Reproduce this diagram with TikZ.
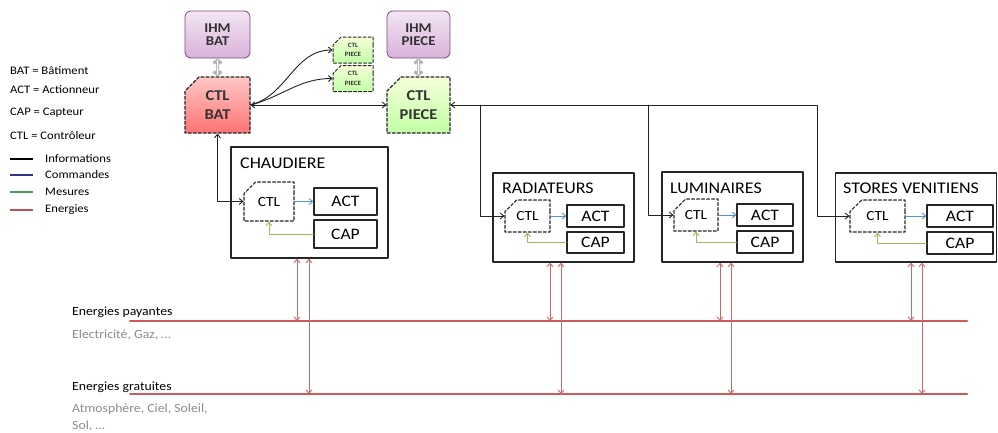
\documentclass[tikz,border=0pt]{standalone}
\usepackage{fontspec}
\setmainfont{Carlito}[FakeStretch=1.1]
\usetikzlibrary{shapes.misc,arrows.meta}
\definecolor{infoc}{HTML}{222222}
\definecolor{cmdc}{HTML}{5B8FC7}
\definecolor{mesc}{HTML}{9BBB59}
\definecolor{nrjc}{HTML}{C0504D}
\definecolor{nrjl}{HTML}{D0595A}
\definecolor{graytxt}{HTML}{8C8C8C}
\newcommand{\fs}[1]{\fontsize{#1}{#1}\selectfont}
\begin{document}
\begin{tikzpicture}[x=1pt,y=-1pt,line cap=round,line join=round,>={Straight Barb[length=3.5pt,width=6pt]},
	ihm/.style={draw=violet!45!gray,line width=0.8pt,rounded corners=6pt,top color=violet!10,bottom color=violet!30,inner sep=0pt,align=center,font=\fs{13.5}\bfseries,text=black!80},
	ctlbox/.style={chamfered rectangle,chamfered rectangle corners=north west,chamfered rectangle sep=7pt,draw=black!85,dashed,dash pattern=on 3pt off 2pt,line width=1.2pt,inner sep=0pt,align=center},
	sysbox/.style={draw=black!85,line width=1.3pt,inner sep=0pt},
	subbox/.style={draw=black!85,line width=1.3pt,inner sep=0pt,font=\fs{16}},
	systitle/.style={anchor=west,inner sep=0pt,font=\fs{16.3}},
	info/.style={draw=infoc,line width=0.9pt},
	cmd/.style={draw=cmdc,line width=0.9pt,->},
	mes/.style={draw=mesc,line width=0.9pt,->},
	nrj/.style={draw=nrjc!85,line width=0.9pt,<->},
	nrjline/.style={draw=nrjl,line width=2pt},
	ihmlink/.style={gray!60,line width=3pt,{Straight Barb[length=3pt,width=8pt]}-{Straight Barb[length=3pt,width=8pt]}},
	legtxt/.style={anchor=west,inner sep=0pt,font=\fs{11.5}},
	legline/.style={line width=1.8pt,line cap=butt}]
	\useasboundingbox (0,0) rectangle (998,432);
	\node[ihm,minimum width=65pt,minimum height=47pt] (ihmbat) at (217.5,34.5) {IHM\\BAT};
	\node[ihm,minimum width=63pt,minimum height=47pt] (ihmpiece) at (418.5,34.5) {IHM\\PIECE};
	\node[ctlbox,top color=red!22,bottom color=red!55,minimum width=65pt,minimum height=56pt,font=\fs{15}\bfseries,text=black!80] (ctlbat) at (217.5,105) {CTL\\[4pt]BAT};
	\node[ctlbox,top color=lime!15,bottom color=lime!40!green!35,minimum width=63pt,minimum height=56pt,font=\fs{15}\bfseries,text=black!80] (ctlpiece) at (418.5,105) {CTL\\[4pt]PIECE};
	\node[ctlbox,chamfered rectangle sep=4pt,line width=1pt,top color=lime!15,bottom color=lime!40!green!35,minimum width=40pt,minimum height=26pt,font=\fs{6.5}\bfseries,text=black!80] (piecea) at (353,50) {CTL\\[3pt]PIECE};
	\node[ctlbox,chamfered rectangle sep=4pt,line width=1pt,top color=lime!15,bottom color=lime!40!green!35,minimum width=40pt,minimum height=26pt,font=\fs{6.5}\bfseries,text=black!80] (pieceb) at (353,78.5) {CTL\\[3pt]PIECE};
	\draw[ihmlink] (ihmbat) -- (ctlbat);
	\draw[white,line width=1.2pt,shorten <=2pt,shorten >=2pt] (ihmbat) -- (ctlbat);
	\draw[ihmlink] (ihmpiece) -- (ctlpiece);
	\draw[white,line width=1.2pt,shorten <=2pt,shorten >=2pt] (ihmpiece) -- (ctlpiece);
	\draw[info,<->] (ctlbat.east) -- (ctlpiece.west);
	\draw[info,->] (ctlbat.east) to[out=15,in=180] (piecea.west);
	\draw[info,->] (ctlbat.east) to[out=15,in=180] (pieceb.west);
	% systemes
	\node[sysbox,minimum width=157pt,minimum height=111pt] (chaud) at (309.5,202.5) {};
	\node[systitle] at (240,163) {CHAUDIERE};
	\node[ctlbox,fill=white,minimum width=50pt,minimum height=39pt,font=\fs{14}] (ctl0) at (269,201.5) {CTL};
	\node[subbox,minimum width=63pt,minimum height=27pt] (act0) at (345.5,201.5) {ACT};
	\node[subbox,minimum width=63pt,minimum height=28pt] (cap0) at (345.5,234) {CAP};
	\node[sysbox,minimum width=141pt,minimum height=89pt] (radiat) at (563.5,217.5) {};
	\node[systitle] at (502,188) {RADIATEURS};
	\node[ctlbox,fill=white,minimum width=45pt,minimum height=32pt,font=\fs{14}] (ctl1) at (527.5,216) {CTL};
	\node[subbox,minimum width=57pt,minimum height=22pt] (act1) at (595.5,216) {ACT};
	\node[subbox,minimum width=57pt,minimum height=21pt] (cap1) at (595.5,242.5) {CAP};
	\node[sysbox,minimum width=141pt,minimum height=90pt] (lumin) at (732.5,217) {};
	\node[systitle] at (670,188) {LUMINAIRES};
	\node[ctlbox,fill=white,minimum width=44pt,minimum height=32pt,font=\fs{14}] (ctl2) at (696,215) {CTL};
	\node[subbox,minimum width=56pt,minimum height=22pt] (act2) at (765,215) {ACT};
	\node[subbox,minimum width=56pt,minimum height=22pt] (cap2) at (765,242) {CAP};
	\node[sysbox,minimum width=161pt,minimum height=89pt] (stores) at (916,217.5) {};
	\node[systitle] at (843,188) {STORES VENITIENS};
	\node[ctlbox,fill=white,minimum width=55pt,minimum height=32pt,font=\fs{14}] (ctl3) at (877.5,216) {CTL};
	\node[subbox,minimum width=66pt,minimum height=22pt] (act3) at (960,216) {ACT};
	\node[subbox,minimum width=66pt,minimum height=22pt] (cap3) at (960,243) {CAP};
	\foreach \i in {0,1,2,3}{
		\draw[cmd] (ctl\i.east) -- (act\i.west);
		\draw[mes] (cap\i.west) -| (ctl\i.south);
	}
	% bus
	\coordinate (tap1) at (480,105);
	\coordinate (tap2) at (648,105);
	\coordinate (tap3) at (817,105);
	\draw[info,<->] (ctlpiece.east) -- (tap3) |- (ctl3.west);
	\draw[info,->] (tap1) |- (ctl1.west);
	\draw[info,->] (tap2) |- (ctl2.west);
	\draw[info,<->] (ctlbat.south) |- (ctl0.west);
	% energies
	\coordinate (pay) at (130,321);
	\coordinate (grat) at (130,394);
	\draw[nrjline] (pay) -- (967,321);
	\draw[nrjline] (grat) -- (967,394);
	\foreach \xa/\xb/\sys in {297/309/chaud,550/561/radiat,720/731/lumin,911/922/stores}{
		\coordinate (ta) at (\xa,0);
		\coordinate (tb) at (\xb,0);
		\draw[nrj] (ta |- \sys.south) -- (ta |- pay);
		\draw[nrj] (tb |- \sys.south) -- (tb |- grat);
	}
	\node[anchor=west,inner sep=0pt,font=\fs{12.5}] (paytxt) at (72,312) {Energies payantes};
	\node[anchor=west,inner sep=0pt,font=\fs{12.5},text=graytxt] (paysub) at (72,335) {Electricité, Gaz, \dots};
	\node[anchor=west,inner sep=0pt,font=\fs{12.5}] (grattxt) at (72,387) {Energies gratuites};
	\node[anchor=north west,inner sep=0pt,font=\fontsize{12.5}{17}\selectfont,text=graytxt,align=left] (gratsub) at (72,404) {Atmosphère, Ciel, Soleil,\\Sol, \dots};
	% legende
	\node[legtxt] (lbat) at (10,71) {BAT = Bâtiment};
	\node[legtxt] (lact) at (10,90) {ACT = Actionneur};
	\node[legtxt] (lcap) at (10,113) {CAP = Capteur};
	\node[legtxt] (lctl) at (10,136) {CTL = Contrôleur};
	\foreach \yy/\cc/\tt in {159/black/Informations,175/blue!40!black!80/Commandes,192/green!45!black!70/Mesures,210/nrjc/Energies}{
		\draw[legline,\cc] (10,\yy) -- (33,\yy);
		\node[legtxt] at (45,\yy) {\tt};
	}
\end{tikzpicture}
\end{document}
